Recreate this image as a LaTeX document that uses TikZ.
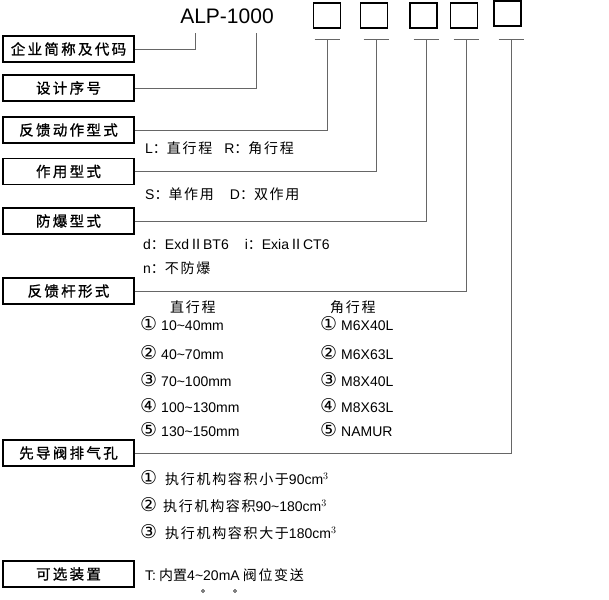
\documentclass[tikz,border=0pt]{standalone}
\usepackage{fontspec}
\setmainfont{Noto Sans CJK SC}
\newfontfamily\lat{Liberation Sans}
\newfontfamily\labfont[FakeBold=1,LetterSpace=16]{Noto Sans CJK SC}
\newfontfamily\spfont[LetterSpace=12]{Noto Sans CJK SC}
\newfontfamily\circfont{DejaVu Sans}
\newcommand{\cn}[1]{{\circfont\fontsize{19}{15}\selectfont #1}}
\begin{document}
\begin{tikzpicture}[x=1pt,y=-1pt,
  lab/.style={draw=black,line width=1.2pt,minimum width=131pt,minimum height=26pt,inner sep=0pt,font=\labfont\fontsize{14.5}{14}\selectfont},
  cb/.style={draw=black,line width=1.2pt,minimum width=27pt,minimum height=25pt,inner sep=0pt},
  con/.style={draw=black!60,line width=0.9pt},
  txt/.style={anchor=west,inner sep=0pt,font=\fontsize{14}{14}\selectfont}]
\useasboundingbox (0,0) rectangle (609,599);
\node[anchor=center,font=\lat\fontsize{21}{21}\selectfont] (alp) at (227,16) {ALP-1000};
\node[cb] (b1) at (327,15.5) {};
\node[cb] (b2) at (374,15.5) {};
\node[cb] (b3) at (423.5,15.5) {};
\node[cb] (b4) at (464,15.5) {};
\node[cb] (b5) at (507.5,13.5) {};
\foreach \i/\x in {1/327,2/376,3/426,4/466,5/511}{
  \coordinate (u\i) at (\x,39);
  \draw[con] (\x-12.5,39) -- (\x+12.5,39);
}
\coordinate (a1) at (195,33);
\coordinate (a2) at (256,33);
\node[lab] (l1) at (68.5,49) {企业简称及代码};
\node[lab] (l2) at (68.5,88) {设计序号};
\node[lab] (l3) at (68.5,130) {反馈动作型式};
\node[lab] (l4) at (68.5,171.5) {作用型式};
\node[lab] (l5) at (68.5,221) {防爆型式};
\node[lab] (l6) at (68.5,291) {反馈杆形式};
\node[lab] (l7) at (68.5,453) {先导阀排气孔};
\node[lab] (l8) at (68.5,574) {可选装置};
\draw[con] (l1.east) -| (a1);
\draw[con] (l2.east) -| (a2);
\draw[con] (l3.east) -| (u1);
\draw[con] (l4.east) -| (u2);
\draw[con] (l5.east) -| (u3);
\draw[con] (l6.east) -| (u4);
\draw[con] (l7.east) -| (u5);
\node[txt] (t1) at (145,148) {{\lat L}：{\spfont 直行程}\hspace{12pt}{\lat R}：{\spfont 角行程}};
\node[txt] (t2) at (145,194) {{\lat S}：{\spfont 单作用}\hspace{16pt}{\lat D}：{\spfont 双作用}};
\node[txt] (t3) at (143,244) {{\lat d}：{\lat Exd}Ⅱ{\lat BT6}\hspace{16pt}{\lat i}：{\lat Exia}Ⅱ{\lat CT6}};
\node[txt] (t4) at (143,268) {{\lat n}：{\spfont 不防爆}};
\node[txt] (h1) at (170,307) {\spfont 直行程};
\node[txt] (h2) at (330,307) {\spfont 角行程};
\foreach \n/\y/\a/\b in {①/324/10\textasciitilde40mm/M6X40L,②/353/40\textasciitilde70mm/M6X63L,③/380/70\textasciitilde100mm/M8X40L,④/406/100\textasciitilde130mm/M8X63L,⑤/430/130\textasciitilde150mm/NAMUR}{
  \node[txt] at (140,\y) {\cn{\n}\hspace{4pt}{\lat\a}};
  \node[txt] at (320,\y) {\cn{\n}\hspace{4pt}{\lat\b}};
}
\node[txt] (p1) at (140,478) {\cn{①}\hspace{8pt}{\spfont 执行机构容积小于}{\lat 90cm$^3$}};
\node[txt] (p2) at (140,505) {\cn{②}\hspace{6pt}{\spfont 执行机构容积}{\lat 90\textasciitilde180cm$^3$}};
\node[txt] (p3) at (140,532) {\cn{③}\hspace{8pt}{\spfont 执行机构容积大于}{\lat 180cm$^3$}};
\node[txt] (o1) at (145,575) {{\lat T:} 内置{\lat 4\textasciitilde20mA} {\spfont 阀位变送}};
\draw[line width=0.6pt] (203,591) circle (1.5);
\draw[line width=0.6pt] (235,591) circle (1.5);
\end{tikzpicture}
\end{document}
